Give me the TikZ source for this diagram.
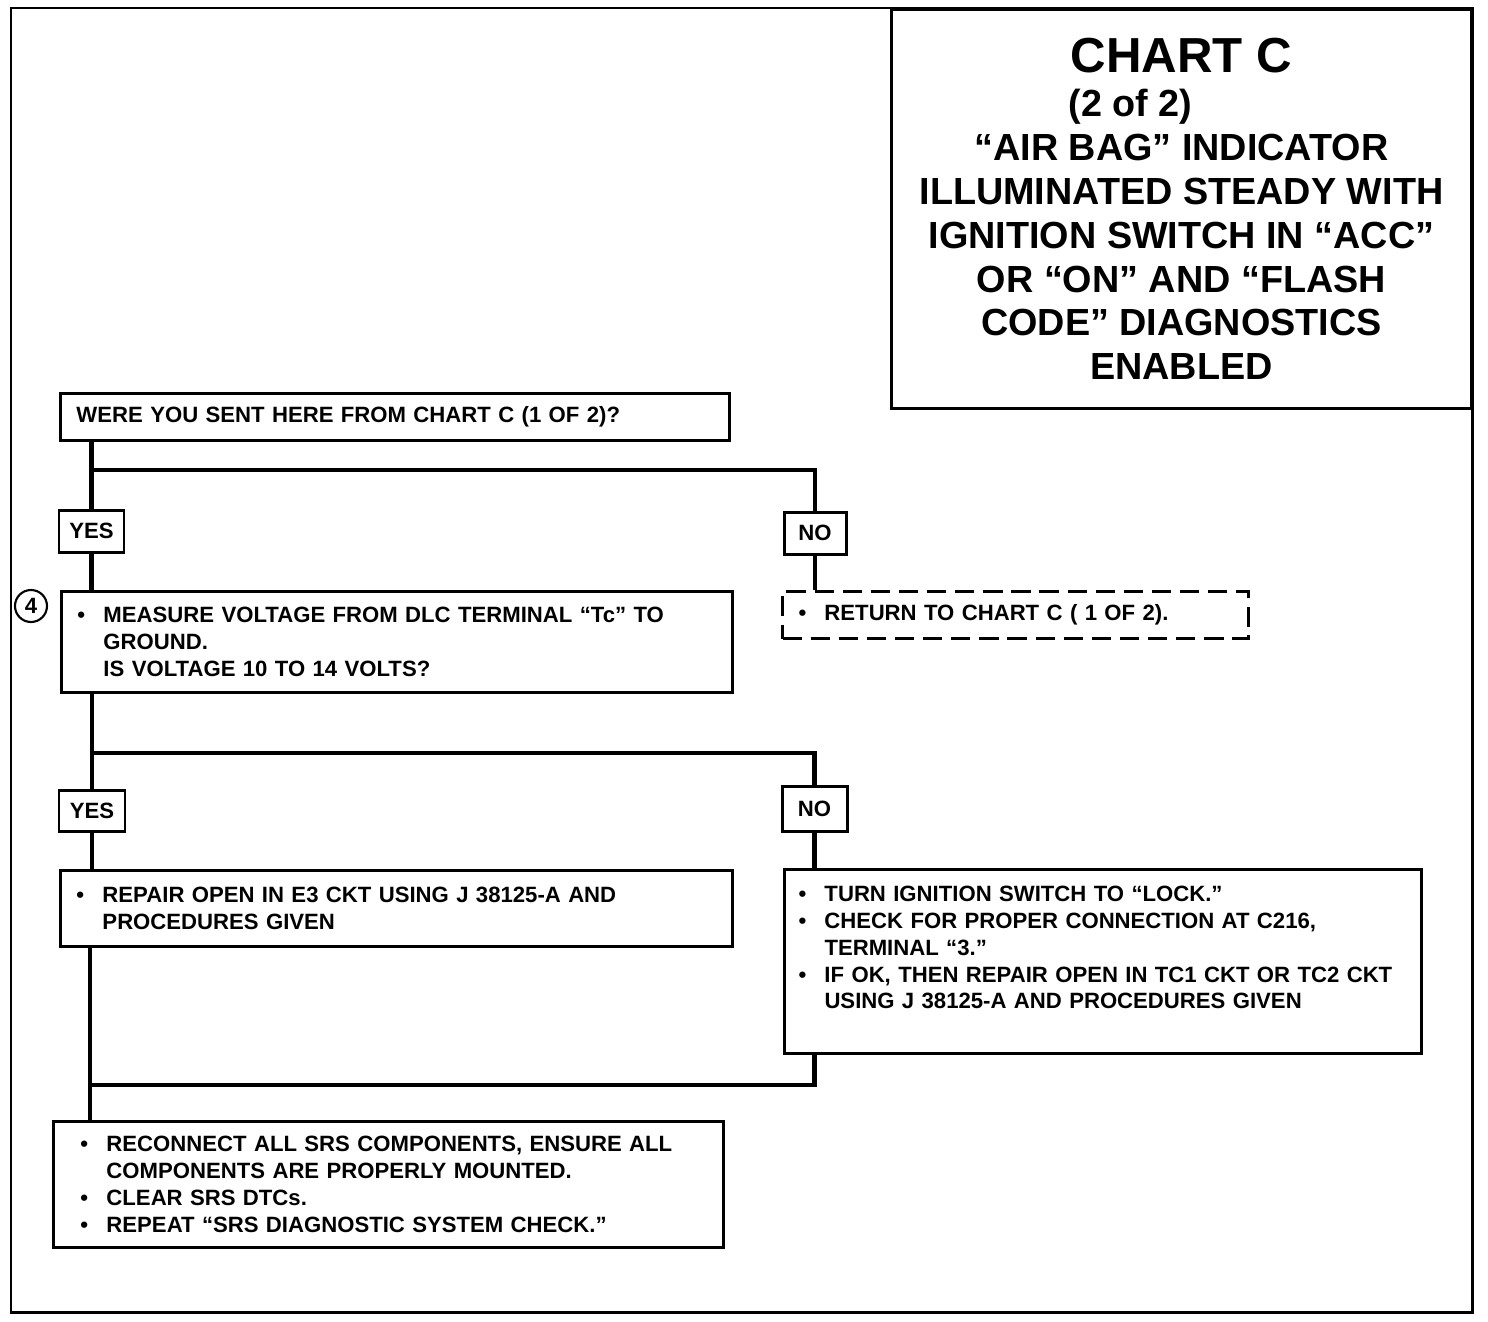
\documentclass[tikz,border=0pt]{standalone}
\usepackage{fontspec}
\setmainfont{Liberation Sans}
\usetikzlibrary{positioning}
\newlength{\px}\setlength{\px}{0.02cm}
\newcommand{\chartbul}{\makebox[26\px][l]{\textbullet}}
\newcommand{\chartind}{\hspace*{26\px}}

\begin{document}
\begin{tikzpicture}[x=0.02cm, y=-0.02cm, every node/.style={font=\bfseries\fontsize{12.6}{15.3}\selectfont}]
    \tikzset{chartstep/.style={draw,line width=1.7pt,anchor=north west,align=left,inner xsep=16\px,inner ysep=0pt},
      answer/.style={draw,line width=1.7pt,minimum width=65\px,minimum height=42\px,inner sep=0pt},
      flowline/.style={line width=2.8pt}}
    \useasboundingbox (0,0) rectangle (1488,1322);
    \draw[line width=1.7pt] (11,8) rectangle (1472,1312);
    % title block
    \node[draw,line width=1.7pt,anchor=north west,minimum width=580\px,minimum height=399\px,align=center,
      font=\bfseries\fontsize{21.5}{25}\selectfont] (title) at (890,8)
      {{\fontsize{28}{30}\selectfont CHART C}\\
       \hspace*{-58pt}(2 of 2)\\
       “AIR BAG” INDICATOR\\
       ILLUMINATED STEADY WITH\\
       IGNITION SWITCH IN “ACC”\\
       OR “ON” AND “FLASH\\
       CODE” DIAGNOSTICS\\
       ENABLED};
    % steps
    \node[chartstep,text width=637\px,minimum height=47\px] (q1) at (59,392) {WERE YOU SENT HERE FROM CHART C (1 OF 2)?};
    \node[answer] (yes1) at (91.5,531) {YES};
    \node[answer,minimum width=62\px] (no1) at (815,533) {NO};
    \node[draw,circle,line width=1.2pt,minimum size=32\px,inner sep=0pt] (mark4) at (31,606) {4};
    \node[chartstep,text width=639\px,minimum height=101\px] (step4) at (60,590)
      {\chartbul MEASURE VOLTAGE FROM DLC TERMINAL “Tc” TO\\
       \chartind GROUND.\\
       \chartind IS VOLTAGE 10 TO 14 VOLTS?};
    \node[chartstep,dash pattern=on 11pt off 5pt,text width=434\px,minimum height=47\px] (ret) at (781,590)
      {\chartbul RETURN TO CHART C ( 1 OF 2).};
    \node[answer,minimum width=66\px,minimum height=41\px] (yes2) at (92,810.5) {YES};
    \node[answer,minimum height=45\px] (no2) at (814.5,808.5) {NO};
    \node[chartstep,text width=640\px,minimum height=76\px] (repair) at (59,869)
      {\chartbul REPAIR OPEN IN E3 CKT USING J 38125-A AND\\
       \chartind PROCEDURES GIVEN};
    \node[chartstep,inner xsep=14\px,text width=609\px,minimum height=184\px] (chk) at (783,868)
      {\chartbul TURN IGNITION SWITCH TO “LOCK.”\\
       \chartbul CHECK FOR PROPER CONNECTION AT C216,\\
       \chartind TERMINAL “3.”\\
       \chartbul IF OK, THEN REPAIR OPEN IN TC1 CKT OR TC2 CKT\\
       \chartind USING J 38125-A AND PROCEDURES GIVEN\rule[-28\px]{0pt}{28\px}};
    \node[chartstep,inner xsep=27\px,text width=616\px,minimum height=126\px] (final) at (52,1120)
      {\chartbul RECONNECT ALL SRS COMPONENTS, ENSURE ALL\\
       \chartind COMPONENTS ARE PROPERLY MOUNTED.\\
       \chartbul CLEAR SRS DTCs.\\
       \chartbul REPEAT “SRS DIAGNOSTIC SYSTEM CHECK.”};
    % connectors
    \coordinate (j1) at (92,470);
    \coordinate (j2) at (92,753);
    \coordinate (j3) at (90,1085);
    \draw[flowline] (q1.south -| yes1) -- (yes1.north);
    \draw[flowline] (j1) -| (no1.north);
    \draw[flowline] (yes1.south) -- (yes1.south |- step4.north);
    \draw[flowline] (no1.south) -- (no1.south |- ret.north);
    \draw[flowline] (step4.south -| yes2) -- (yes2.north);
    \draw[flowline] (j2) -| (no2.north);
    \draw[flowline] (yes2.south) -- (yes2.south |- repair.north);
    \draw[flowline] (no2.south) -- (no2.south |- chk.north);
    \draw[flowline] (repair.south -| j3) -- (j3 |- final.north);
    \draw[flowline] (chk.south -| no2) |- (j3);
  \end{tikzpicture}
\end{document}
